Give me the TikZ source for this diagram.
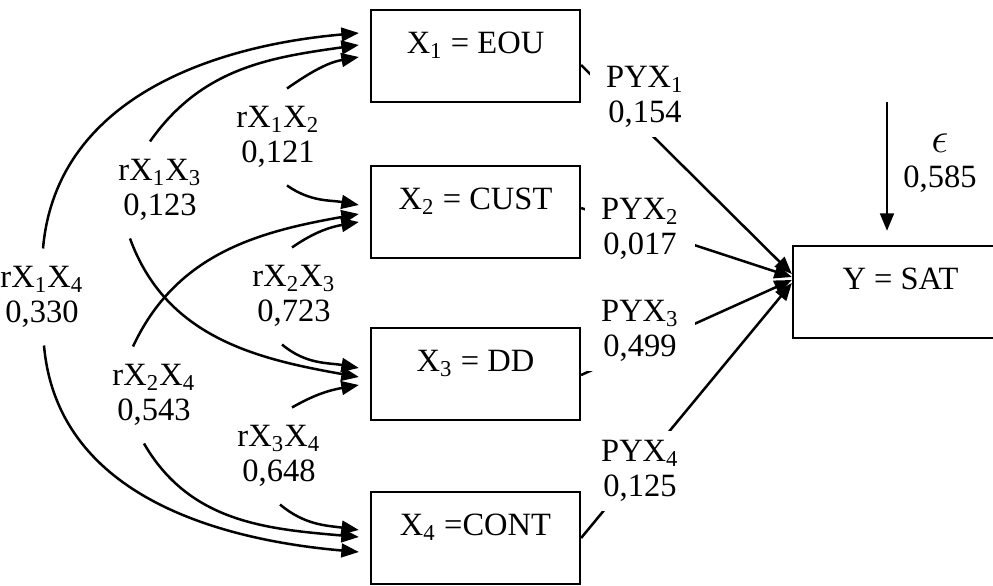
\documentclass[tikz,border=0pt]{standalone}
\usepackage{fontspec}
\setmainfont{Liberation Serif}
\usetikzlibrary{arrows.meta,calc}

\tikzset{
  var/.style={draw,line width=0.9pt,minimum width=83.6pt,minimum height=36.8pt,
    text height=9pt,text depth=11pt,inner sep=0pt},
  corr/.style={align=center,inner sep=0pt,minimum height=38.4pt},
  pyx/.style={align=center,fill=white,inner sep=0pt,minimum width=44pt,minimum height=32pt},
  arr/.style={-{Triangle[length=7pt,width=5.5pt]},line width=1pt}
}

\begin{document}
\begin{tikzpicture}[x=0.4pt,y=0.4pt,font=\fontsize{13}{14}\selectfont]
\useasboundingbox (0,0) rectangle (993,586);
\clip (0,0) rectangle (993,586);

% variables
\node [var] (x1) at (475.5,530) {X\textsubscript{1} = EOU};
\node [var] (x2) at (475.5,374) {X\textsubscript{2} = CUST};
\node [var] (x3) at (475.5,212) {X\textsubscript{3} = DD};
\node [var] (x4) at (475.5,48) {X\textsubscript{4} =CONT};
\node [var,minimum width=86pt] (y) at (900.5,294) {Y = SAT};

% correlations
\node [corr] (l14) at (42,289) {rX\textsubscript{1}X\textsubscript{4}\\0,330};
\node [corr] (l13) at (160,396) {rX\textsubscript{1}X\textsubscript{3}\\0,123};
\node [corr] (l12) at (278,449) {rX\textsubscript{1}X\textsubscript{2}\\0,121};
\node [corr] (l23) at (294,290) {rX\textsubscript{2}X\textsubscript{3}\\0,723};
\node [corr] (l24) at (154,191) {rX\textsubscript{2}X\textsubscript{4}\\0,543};
\node [corr] (l34) at (279,130) {rX\textsubscript{3}X\textsubscript{4}\\0,648};

\draw [arr] ($(l14.north)+(1,0)$) to [out=85,in=185] ($(x1.west)+(-11,23)$);
\draw [arr] ($(l14.south)+(2,0)$) to [out=-85,in=175] ($(x4.west)+(-11,-14)$);
\draw [arr] ($(l13.north)+(-10,0)$) to [out=55,in=188] ($(x1.west)+(-11,11)$);
\draw [arr] ($(l13.south)+(-30,0)$) to [out=-70,in=170] ($(x3.west)+(-11,-3)$);
\draw [arr] ($(l12.north)+(9,0)$) to [out=35,in=190] ($(x1.west)+(-11,-1)$);
\draw [arr] ($(l12.south)+(9,0)$) to [out=-35,in=170] ($(x2.west)+(-11,7)$);
\draw [arr] ($(l23.north)+(-2,0)$) to [out=35,in=190] ($(x2.west)+(-11,-10)$);
\draw [arr] ($(l23.south)+(-12,0)$) to [out=-40,in=170] ($(x3.west)+(-11,6)$);
\draw [arr] ($(l24.north)+(-21,0)$) to [out=65,in=190] ($(x2.west)+(-11,-2)$);
\draw [arr] ($(l24.south)+(-10,0)$) to [out=-60,in=175] ($(x4.west)+(-11,1)$);
\draw [arr] ($(l34.north)+(13,0)$) to [out=30,in=190] ($(x3.west)+(-11,-11)$);
\draw [arr] ($(l34.south)+(1,0)$) to [out=-40,in=172] ($(x4.west)+(-11,8)$);

% paths to Y
\draw [arr] ($(x1.east)+(0,-9)$) -- ($(y.west)+(0,18)$);
\draw [arr] ($(x2.east)+(0,4)$) -- ($(y.west)+(0,15)$);
\draw [arr] ($(x3.east)+(0,-1)$) -- ($(y.west)+(0,12)$);
\draw [arr] (x4.east) -- ($(y.west)+(0,9)$);
\node [pyx] (p1) at (645,489) {PYX\textsubscript{1}\\0,154};
\node [pyx] (p2) at (640,357) {PYX\textsubscript{2}\\0,017};
\node [pyx] (p3) at (640,255) {PYX\textsubscript{3}\\0,499};
\node [pyx] (p4) at (640,115) {PYX\textsubscript{4}\\0,125};

% error term
\coordinate (e0) at (887,484);
\node [align=center] (eps) at (940,423) {{\fontsize{17}{14}\selectfont$\epsilon$}\\0,585};
\draw [arr,shorten >=5.6pt] (e0) -- (e0 |- y.north);

\end{tikzpicture}
\end{document}
